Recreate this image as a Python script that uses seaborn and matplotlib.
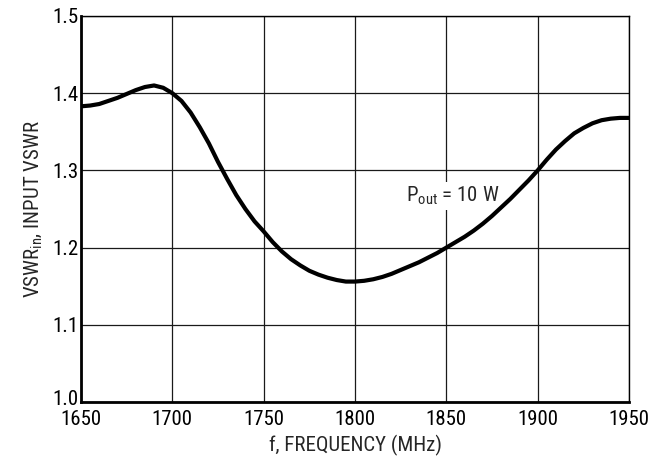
import matplotlib
matplotlib.use("Agg")
import matplotlib.pyplot as plt
from matplotlib import font_manager
from matplotlib.transforms import ScaledTranslation
import seaborn as sns
import pandas as pd

# Input VSWR versus frequency at Pout = 10 W
freq_mhz = [1650, 1655, 1660, 1665, 1670, 1675, 1680, 1685, 1690, 1695,
            1700, 1705, 1710, 1715, 1720, 1725, 1730, 1735, 1740, 1745,
            1750, 1755, 1760, 1765, 1770, 1775, 1780, 1785, 1790, 1795,
            1800, 1805, 1810, 1815, 1820, 1825, 1830, 1835, 1840, 1845,
            1850, 1855, 1860, 1865, 1870, 1875, 1880, 1885, 1890, 1895,
            1900, 1905, 1910, 1915, 1920, 1925, 1930, 1935, 1940, 1945, 1950]
vswr_in = [1.383, 1.384, 1.386, 1.390, 1.394, 1.399, 1.404, 1.408, 1.410, 1.407,
           1.400, 1.390, 1.375, 1.356, 1.335, 1.311, 1.289, 1.268, 1.250, 1.234,
           1.221, 1.207, 1.195, 1.185, 1.177, 1.170, 1.165, 1.161, 1.158, 1.156,
           1.156, 1.157, 1.159, 1.162, 1.166, 1.171, 1.176, 1.181, 1.187, 1.193,
           1.200, 1.207, 1.214, 1.222, 1.231, 1.241, 1.252, 1.263, 1.275, 1.287,
           1.300, 1.314, 1.327, 1.338, 1.348, 1.355, 1.361, 1.365, 1.367, 1.368, 1.368]

x_ticks = [1650, 1700, 1750, 1800, 1850, 1900, 1950]
y_ticks = [1.0, 1.1, 1.2, 1.3, 1.4, 1.5]
y_tick_labels = ["1.0", "1.1", "1.2", "1.3", "1.4", "1.5"]

x_label = "f, FREQUENCY (MHz)"
y_label = r"VSWR$_{\mathrm{in}}$, INPUT VSWR"
curve_label = r"P$_{\mathrm{out}}$ = 10 W"

sns.set_style("white")

# Prefer a narrow sans face; otherwise shrink a regular one to similar widths
installed = {f.name for f in font_manager.fontManager.ttflist}
narrow = [n for n in ("Liberation Sans Narrow", "Roboto Condensed", "Arial Narrow")
          if n in installed]
if narrow:
    face, fs = narrow[0], 15
else:
    face, fs = "Liberation Sans", 12.5
plt.rcParams["font.family"] = [face, "DejaVu Sans"]
plt.rcParams["mathtext.fontset"] = "custom"
plt.rcParams["mathtext.rm"] = face
plt.rcParams["mathtext.it"] = face
plt.rcParams["mathtext.bf"] = face

df = pd.DataFrame({"freq": freq_mhz, "vswr": vswr_in})

fig = plt.figure(figsize=(6.49, 4.66), dpi=100)
ax = fig.add_axes([0.1248, 0.1373, 0.9692 - 0.1248, 0.9657 - 0.1373])

sns.lineplot(data=df, x="freq", y="vswr", color="black", linewidth=3.0,
             ax=ax, zorder=5)
ax.lines[0].set_solid_joinstyle("round")
ax.lines[0].set_solid_capstyle("butt")

ax.set_xlim(1650, 1950)
ax.set_ylim(1.0, 1.5)
ax.set_xticks(x_ticks)
ax.set_yticks(y_ticks)
ax.set_yticklabels(y_tick_labels)
ax.grid(True, color="#1a1a1a", linewidth=0.9)
ax.set_axisbelow(True)
ax.tick_params(axis="both", length=0, labelsize=fs, colors="black")
ax.tick_params(axis="x", pad=6)
ax.tick_params(axis="y", pad=2)

# lift the bottom y label slightly so it clears the first x label
lbl0 = ax.get_yticklabels()[0]
lbl0.set_transform(lbl0.get_transform() + ScaledTranslation(0, 3 / 72, fig.dpi_scale_trans))

for side in ("left", "bottom"):
    ax.spines[side].set_linewidth(2.0)
    ax.spines[side].set_color("black")
for side in ("top", "right"):
    ax.spines[side].set_linewidth(1.0)
    ax.spines[side].set_color("black")
for s in ax.spines.values():
    s.set_zorder(6)

ax.set_xlabel(x_label, fontsize=fs, labelpad=4)
ax.set_ylabel(y_label, fontsize=fs, labelpad=6)

ax.text(1828, 1.267, curve_label, fontsize=fs, ha="left", va="center",
        zorder=4, bbox=dict(facecolor="white", edgecolor="none", pad=2))

fig.savefig("out.png", dpi=100)
